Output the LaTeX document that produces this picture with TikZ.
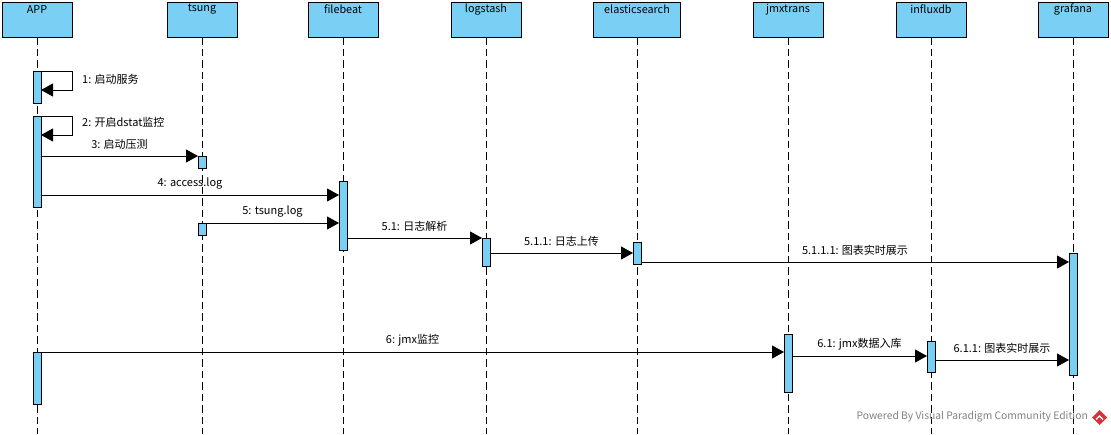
\documentclass[tikz,border=0pt]{standalone}
\usepackage{fontspec}
\setmainfont{Noto Sans CJK SC}
\usetikzlibrary{arrows.meta}
\definecolor{lblue}{RGB}{122,207,245}
\definecolor{wmgray}{RGB}{130,130,130}
\definecolor{vpred}{RGB}{214,52,58}
\begin{document}
\begin{tikzpicture}[x=1pt,y=-1pt,
  head/.style={draw, fill=lblue, line width=0.9pt, minimum width=70pt, minimum height=35pt, inner sep=0pt, outer sep=0pt},
  bar/.style={draw, fill=lblue, line width=0.9pt, minimum width=8pt, inner sep=0pt, outer sep=0pt},
  life/.style={line width=0.9pt, dash pattern=on 7.5pt off 4pt},
  msg/.style={line width=0.9pt, -{Triangle[length=12pt,width=13pt]}},
  lbl/.style={font=\fontsize{11}{13}\selectfont, inner sep=0pt},
  hl/.style={font=\fontsize{10.8}{13}\selectfont, inner sep=0pt, anchor=center, yshift=-7.5pt},
  ml/.style={lbl, midway, anchor=center, yshift=12pt}
]
\useasboundingbox (0,0) rectangle (1111,434);
\fill[white] (0,0) rectangle (1111,434);

% lifeline heads
\node[head, label={[hl]north:APP}] (app) at (37,19.5) {};
\node[head, label={[hl]north:tsung}] (tsung) at (202,19.5) {};
\node[head, label={[hl]north:filebeat}] (filebeat) at (343,19.5) {};
\node[head, label={[hl]north:logstash}] (logstash) at (486,19.5) {};
\node[head, minimum width=87pt, label={[hl]north:elasticsearch}] (es) at (637,19.5) {};
\node[head, label={[hl]north:jmxtrans}] (jmx) at (788,19.5) {};
\node[head, label={[hl]north:influxdb}] (influx) at (931,19.5) {};
\node[head, label={[hl]north:grafana}] (grafana) at (1073,19.5) {};

% lifelines
\foreach \n in {app,tsung,filebeat,logstash,es,jmx,influx,grafana}
  \draw[life] (\n.south) -- (\n.south |- 0,434);

% activation bars
\node[bar, minimum height=32pt] (a1) at (37,87) {};
\node[bar, minimum height=91pt] (a2) at (37,161.5) {};
\node[bar, minimum height=52pt] (a3) at (37,378) {};
\node[bar, minimum height=12pt] (t1) at (202,162) {};
\node[bar, minimum height=12pt] (t2) at (202,229) {};
\node[bar, minimum height=69pt] (f1) at (343,215.5) {};
\node[bar, minimum height=28pt] (l1) at (486,252) {};
\node[bar, minimum height=22pt] (e1) at (637,253) {};
\node[bar, minimum height=122pt] (g1) at (1073,314) {};
\node[bar, minimum height=58pt] (j1) at (788,363) {};
\node[bar, minimum height=31pt] (i1) at (931,356.5) {};

% self messages
\draw[msg] (a1.north east) -- (72,71) -- (72,90) -- (a1.east |- 0,90);
\node[lbl, anchor=west] (s1) at (82,79) {1: 启动服务};
\draw[msg] (a2.north east) -- (72,116) -- (72,135) -- (a2.east |- 0,135);
\node[lbl, anchor=west] (s2) at (82,122) {2: 开启dstat监控};

% messages
\draw[msg] (a2.east |- 0,156) -- node[ml] {3: 启动压测} (t1.north west);
\draw[msg] (a2.east |- 0,195) -- node[ml] {4: access.log} (f1.west |- 0,195);
\draw[msg] (t2.north east) -- node[ml] {5: tsung.log} (f1.west |- 0,223);
\draw[msg] (f1.east |- 0,238) -- node[ml] {5.1: 日志解析} (l1.north west);
\draw[msg] (l1.east |- 0,253) -- node[ml] {5.1.1: 日志上传} (e1.west |- 0,253);
\draw[msg] (e1.east |- 0,262) -- node[ml] {5.1.1.1: 图表实时展示} (g1.west |- 0,262);
\draw[msg] (a3.north east) -- node[ml] {6: jmx监控} (j1.west |- 0,352);
\draw[msg] (j1.east |- 0,356) -- node[ml] {6.1: jmx数据入库} (i1.west |- 0,356);
\draw[msg] (i1.east |- 0,360) -- node[ml] {6.1.1: 图表实时展示} (g1.west |- 0,360);

% watermark
\node[font=\fontsize{10.3}{12}\selectfont, text=wmgray, inner sep=0pt, anchor=east] (wm) at (1088,417) {Powered By Visual Paradigm Community Edition};
\fill[vpred] (1099.5,410) -- (1107,417.5) -- (1099.5,425) -- (1092,417.5) -- cycle;
\draw[white, line width=1.2pt] (1096,419.5) -- (1099.5,416) -- (1103,419.5);
\end{tikzpicture}
\end{document}
